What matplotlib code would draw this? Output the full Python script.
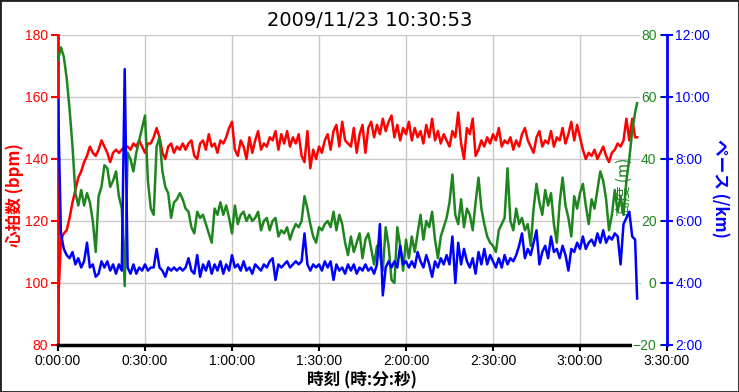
import numpy as np
import matplotlib
matplotlib.use('Agg')
import matplotlib.pyplot as plt
from matplotlib.ticker import FuncFormatter, FixedLocator
from matplotlib.patches import Rectangle

# ---------------- data ----------------
title = "2009/11/23 10:30:53"
x_label = "時刻 (時:分:秒)"
hr_label = "心拍数 (bpm)"
alt_label = "高度 (m)"
pace_label = "ペース (/km)"

# elapsed time in minutes
time_min = list(range(200)) + [199.7]

heart_rate = [
    92, 114, 116, 117, 121, 126, 130, 134, 136, 139,
    141, 144, 142, 141, 143, 146, 144, 142, 139, 142,
    143, 142, 143, 144, 144, 143, 145, 144, 146, 144,
    142, 145, 145, 147, 150, 147, 142, 140, 144, 145,
    142, 144, 143, 145, 143, 145, 146, 141, 140, 145,
    146, 143, 148, 144, 145, 142, 146, 145, 147, 150,
    152, 143, 141, 146, 144, 140, 147, 142, 146, 149,
    143, 145, 144, 147, 146, 149, 143, 148, 145, 149,
    144, 147, 145, 148, 141, 139, 149, 137, 143, 140,
    144, 142, 146, 148, 143, 149, 151, 144, 152, 146,
    145, 144, 150, 142, 148, 151, 142, 150, 152, 147,
    151, 148, 153, 149, 152, 154, 147, 151, 146, 150,
    148, 152, 146, 150, 147, 149, 145, 151, 147, 153,
    146, 149, 145, 148, 146, 144, 149, 147, 155, 145,
    140, 150, 148, 153, 141, 143, 146, 144, 147, 145,
    148, 146, 150, 144, 146, 145, 147, 143, 146, 144,
    148, 150, 146, 144, 142, 147, 149, 144, 146, 145,
    149, 144, 147, 146, 150, 145, 148, 152, 146, 151,
    147, 143, 140, 142, 141, 143, 140, 142, 144, 141,
    139, 142, 143, 145, 144, 146, 153, 146, 153, 147,
    147]

altitude = [
    72, 76, 73, 66, 56, 44, 29, 25, 30, 25,
    29, 26, 20, 10, 28, 31, 38, 37, 31, 33,
    36, 28, 24, -1, 42, 40, 36, 42, 46, 50,
    54, 33, 24, 22, 44, 47, 36, 31, 29, 21,
    26, 27, 29, 27, 24, 23, 18, 16, 23, 21,
    22, 19, 16, 13, 24, 22, 26, 22, 25, 21,
    16, 25, 19, 22, 23, 20, 22, 20, 21, 23,
    17, 20, 21, 17, 20, 21, 15, 17, 16, 18,
    14, 17, 19, 18, 20, 28, 24, 19, 15, 13,
    18, 17, 19, 20, 18, 23, 17, 22, 19, 13,
    9, 15, 10, 13, 16, 8, 14, 16, 11, 6,
    12, 9, 4, 18, 12, 1, 0, 18, 12, 4,
    14, 8, 15, 10, 16, 22, 14, 20, 18, 23,
    14, 8, 15, 18, 21, 26, 35, 22, 19, 27,
    18, 24, 22, 17, 26, 34, 24, 19, 15, 13,
    12, 10, 17, 19, 21, 37, 20, 17, 24, 19,
    21, 17, 19, 12, 24, 32, 26, 22, 30, 25,
    29, 19, 13, 26, 34, 25, 21, 15, 28, 24,
    29, 32, 25, 19, 27, 24, 30, 36, 33, 27,
    17, 22, 30, 23, 28, 22, 33, 40, 49, 55,
    58]

# pace in minutes per km
pace = [
    9.9, 5.6, 5.1, 4.9, 4.8, 5.0, 4.6, 4.8, 4.5, 4.7,
    5.3, 4.5, 4.6, 4.2, 4.3, 4.7, 4.5, 4.7, 4.4, 4.6,
    4.3, 4.6, 4.4, 10.9, 4.5, 4.3, 4.6, 4.3, 4.5, 4.4,
    4.6, 4.4, 4.5, 4.5, 5.1, 4.5, 4.4, 4.2, 4.5, 4.4,
    4.5, 4.4, 4.5, 4.4, 4.5, 4.8, 4.4, 4.3, 4.9, 4.2,
    4.6, 4.4, 4.7, 4.3, 4.6, 4.4, 4.7, 4.3, 4.6, 4.4,
    4.9, 4.5, 4.6, 4.4, 4.7, 4.4, 4.5, 4.3, 4.6, 4.5,
    4.4, 4.6, 4.5, 4.7, 4.8, 4.1, 4.6, 4.5, 4.6, 4.7,
    4.5, 4.6, 4.7, 4.6, 4.7, 5.6, 4.6, 4.4, 4.6, 4.5,
    4.6, 4.4, 4.7, 4.5, 4.7, 4.1, 4.6, 4.4, 4.5, 4.3,
    4.6, 4.4, 4.6, 4.3, 4.5, 4.4, 4.6, 4.4, 4.5, 4.3,
    4.6, 5.9, 3.6, 4.5, 4.7, 4.5, 4.7, 4.5, 5.2, 4.6,
    4.7, 4.5, 4.7, 4.5, 5.0, 4.7, 4.5, 4.9, 4.6, 4.2,
    4.7, 4.5, 4.8, 4.6, 4.9, 4.6, 5.5, 4.0, 5.3, 4.6,
    5.1, 4.7, 4.5, 4.8, 4.3, 5.0, 4.6, 5.1, 4.6, 4.9,
    4.7, 4.5, 4.8, 4.5, 4.9, 4.6, 4.8, 4.7, 4.9, 5.2,
    5.6, 4.8, 5.1, 4.9, 5.3, 5.7, 4.6, 5.0, 5.2, 4.8,
    5.5, 5.0, 5.1, 4.8, 5.2, 4.9, 4.4, 5.1, 5.0, 5.3,
    5.1, 5.5, 5.1, 5.3, 5.4, 5.2, 5.6, 5.3, 5.7, 5.3,
    5.5, 5.4, 5.6, 5.5, 4.6, 5.9, 6.1, 6.3, 5.5, 5.4,
    3.5]

x_ticks = [0, 30, 60, 90, 120, 150, 180, 210]
hr_ticks = [80, 100, 120, 140, 160, 180]
alt_ticks = [-20, 0, 20, 40, 60, 80]
pace_ticks = [2, 4, 6, 8, 10, 12]

# ---------------- style ----------------
RED = '#ff0000'
GREEN = '#1f861f'
BLUE = '#0000ff'
GRID = '#c8c8c8'
TICKFONT = ['Liberation Sans', 'DejaVu Sans']
JP = ['Noto Sans CJK JP', 'DejaVu Sans']
LW = 1.8

W, H = 739, 392
fig = plt.figure(figsize=(W / 100, H / 100), dpi=100)
fig.patch.set_facecolor('white')

ax1 = fig.add_axes([58 / W, 1 - 345 / H, (667 - 58) / W, (345 - 35) / H])
ax2 = ax1.twinx()
ax3 = ax1.twinx()

# heart-rate axis (left, red)
ax1.plot(time_min, heart_rate, color=RED, lw=LW, zorder=3)
ax1.set_xlim(0, 210)
ax1.set_ylim(80, 180)
ax1.xaxis.set_major_locator(FixedLocator(x_ticks))
ax1.yaxis.set_major_locator(FixedLocator(hr_ticks))
ax1.xaxis.set_major_formatter(FuncFormatter(
    lambda v, p: f"{int(v) // 60}:{int(v) % 60:02d}:00"))
ax1.xaxis.grid(True, color=GRID, lw=1, zorder=0)
for v in hr_ticks[1:]:
    ax1.axhline(v, xmin=0, xmax=(640 - 58) / 609, color=GRID, lw=1, zorder=0.5)
for s in ['top', 'right']:
    ax1.spines[s].set_visible(False)
ax1.spines['left'].set_color(RED)
ax1.spines['left'].set_linewidth(2)
ax1.spines['bottom'].set_color('black')
ax1.spines['bottom'].set_linewidth(2.5)
ax1.spines['bottom'].set_bounds(0, 198)
ax1.tick_params(axis='x', direction='out', length=4, width=1.5, color='black',
                labelsize=10, pad=2.5, labelcolor='black')
ax1.tick_params(axis='y', direction='out', length=5, width=1.5, color=RED,
                labelsize=10, pad=2, labelcolor=RED)
for lbl in ax1.get_xticklabels() + ax1.get_yticklabels():
    lbl.set_fontfamily(TICKFONT)

# altitude axis (inner right, green)
ax2.plot(time_min, altitude, color=GREEN, lw=LW)
ax2.set_ylim(-20, 80)
ax2.yaxis.set_major_locator(FixedLocator(alt_ticks))
for s in ['top', 'right', 'bottom']:
    ax2.spines[s].set_visible(False)
ax2.spines['left'].set_position(('axes', 1.0))
ax2.spines['left'].set_color('none')
ax2.yaxis.tick_left()
ax2.tick_params(axis='y', direction='out', length=5, width=1.2, color=GREEN,
                labelsize=10, pad=2.5, labelcolor=GREEN)
for lbl in ax2.get_yticklabels():
    lbl.set_fontfamily(TICKFONT)
    lbl.set_bbox(dict(facecolor='white', edgecolor='none', pad=0.5))

# pace axis (outer right, blue)
ax3.plot(time_min, pace, color=BLUE, lw=LW)
ax3.set_ylim(2, 12)
ax3.yaxis.set_major_locator(FixedLocator(pace_ticks))
ax3.yaxis.set_major_formatter(FuncFormatter(
    lambda v, p: f"{int(v)}:{int(round((v % 1) * 60)):02d}"))
for s in ['top', 'left', 'bottom']:
    ax3.spines[s].set_visible(False)
ax3.spines['right'].set_color(BLUE)
ax3.spines['right'].set_linewidth(2)
ax3.tick_params(axis='y', direction='inout', length=8, width=1.5, color=BLUE,
                labelsize=10, pad=2, labelcolor=BLUE)
for lbl in ax3.get_yticklabels():
    lbl.set_fontfamily(TICKFONT)

# labels
fig.text(370 / W, 1 - 21 / H, title, ha='center', va='center', fontsize=14,
         family='DejaVu Sans', color='black')
fig.text(362 / W, 1 - 380 / H, x_label, ha='center', va='center', fontsize=12,
         fontweight='bold', family=JP, color='black')
fig.text(15 / W, 1 - 195 / H, hr_label, ha='center', va='center', fontsize=12,
         fontweight='bold', family=JP, color=RED, rotation=90)
fig.text(720 / W, 1 - 188 / H, pace_label, ha='center', va='center', fontsize=12,
         fontweight='bold', family=JP, color=BLUE, rotation=270)
ax1.text((624 - 58) / 609, (345 - 187) / 310, alt_label, transform=ax1.transAxes,
         ha='center', va='center', fontsize=11, family=JP, color=GREEN,
         rotation=90, zorder=1)

fig.patches.append(Rectangle((0, 0), 1, 1, transform=fig.transFigure, fill=False,
                             edgecolor='#202020', lw=2, zorder=10))

fig.savefig('out.png', dpi=100, facecolor='white')
